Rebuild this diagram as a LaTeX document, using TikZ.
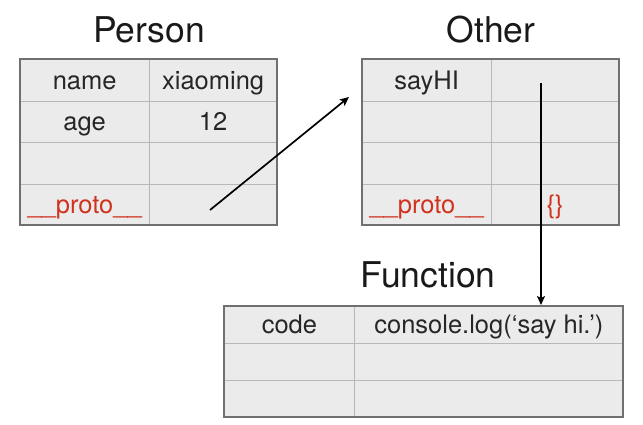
\documentclass[tikz,border=0pt]{standalone}
\usepackage{fontspec}
\setmainfont{TeX Gyre Heros}
\usetikzlibrary{arrows.meta}
\definecolor{cellfill}{HTML}{EBEBEB}
\definecolor{outer}{HTML}{707070}
\definecolor{inner}{HTML}{B8B8B8}
\definecolor{protored}{HTML}{D0321E}
\begin{document}
\begin{tikzpicture}[x=1pt,y=-1pt,
  cell/.style={draw=inner,fill=cellfill,line width=0.8pt,minimum width=#1,minimum height=41.5pt,inner sep=0pt,anchor=north west,font=\fontsize{25.5}{28}\selectfont,text=black!85,text height=18pt,text depth=0pt},
  cell/.default=128.5pt,
  frame/.style={draw=outer,line width=1.2pt},
  title/.style={font=\fontsize{35.5}{40}\selectfont,text=black!90,anchor=base,inner sep=0pt},
  red/.style={text=protored},
  ptr/.style={-{Stealth[length=9pt,width=8pt,inset=2pt]},line width=1.7pt,black}]
\useasboundingbox (0,0) rectangle (643,424);
% Person
\node[title] (tperson) at (149,42) {Person};
\node[cell] (p11) at (20,59) {name};
\node[cell] (p12) at (148.5,59) {xiaoming};
\node[cell] (p21) at (20,100.5) {age};
\node[cell] (p22) at (148.5,100.5) {12};
\node[cell] (p31) at (20,142) {};
\node[cell] (p32) at (148.5,142) {};
\node[cell,red] (p41) at (20,183.5) {\_\_proto\_\_};
\node[cell] (p42) at (148.5,183.5) {};
\draw[frame] (20,59) rectangle (277,225);
% Other
\node[title] (tother) at (491,42) {Other};
\node[cell] (o11) at (362,59) {sayHI};
\node[cell] (o12) at (490.5,59) {};
\node[cell] (o21) at (362,100.5) {};
\node[cell] (o22) at (490.5,100.5) {};
\node[cell] (o31) at (362,142) {};
\node[cell] (o32) at (490.5,142) {};
\node[cell,red] (o41) at (362,183.5) {\_\_proto\_\_};
\node[cell,red] (o42) at (490.5,183.5) {\{\}};
\draw[frame] (362,59) rectangle (619,225);
% Function
\node[title] (tfunc) at (428,287) {Function};
\node[cell=130pt,minimum height=37pt] (f11) at (224,306) {code};
\node[cell=269pt,minimum height=37pt] (f12) at (354,306) {console.log(‘say hi.’)};
\node[cell=130pt,minimum height=37pt] (f21) at (224,343) {};
\node[cell=269pt,minimum height=37pt] (f22) at (354,343) {};
\node[cell=130pt,minimum height=37pt] (f31) at (224,380) {};
\node[cell=269pt,minimum height=37pt] (f32) at (354,380) {};
\draw[frame] (224,306) rectangle (623,417);
% arrows
\coordinate (a1s) at (210,210);
\coordinate (a1e) at (349,97);
\coordinate (a2s) at (541,83);
\coordinate (a2e) at (541,305);
\draw[ptr] (a1s) -- (a1e);
\draw[ptr] (a2s) -- (a2e);
\end{tikzpicture}
\end{document}
